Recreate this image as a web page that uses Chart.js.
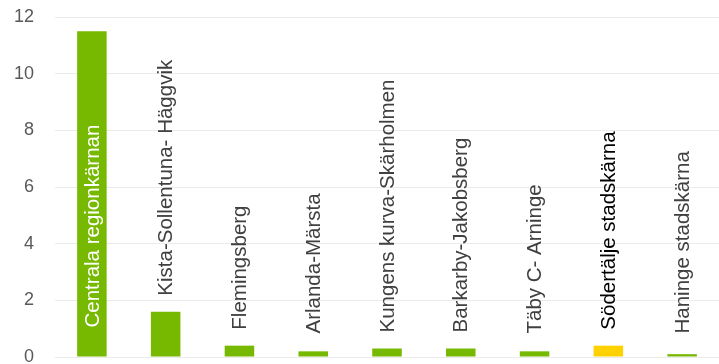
<!DOCTYPE html>
<html>
<head>
<meta charset="utf-8">
<script src="https://cdn.jsdelivr.net/npm/chart.js@4"></script>
<style>
  html, body { margin: 0; padding: 0; background: #fff; overflow: hidden; }
  canvas { display: block; }
</style>
</head>
<body>
<canvas id="c" width="719" height="364"></canvas>
<script>
const categories = ['Centrala regionkärnan', 'Kista-Sollentuna- Häggvik', 'Flemingsberg', 'Arlanda-Märsta',
  'Kungens kurva-Skärholmen', 'Barkarby-Jakobsberg', 'Täby C- Arninge', 'Södertälje stadskärna', 'Haninge stadskärna'];
const values = [11.5, 1.6, 0.4, 0.2, 0.3, 0.3, 0.2, 0.4, 0.1];
const barColors = ['#76b900', '#76b900', '#76b900', '#76b900', '#76b900', '#76b900', '#76b900', '#ffd100', '#76b900'];
const labelColors = ['#ffffff', '#404040', '#404040', '#404040', '#404040', '#404040', '#404040', '#000000', '#404040'];
const yTicks = [0, 2, 4, 6, 8, 10, 12];

const FONT = '"Liberation Sans", Arial, sans-serif';

// rotated category labels above each bar (first one sits inside its bar)
const barLabels = {
  id: 'barLabels',
  afterDatasetsDraw(chart) {
    const ctx = chart.ctx;
    const meta = chart.getDatasetMeta(0);
    ctx.save();
    ctx.font = '20.5px ' + FONT;
    ctx.textAlign = 'left';
    ctx.textBaseline = 'middle';
    meta.data.forEach((bar, i) => {
      const y = i === 0 ? bar.base - 29 : Math.min(bar.y - 16, bar.base - 23);
      ctx.save();
      ctx.translate(bar.x, y);
      ctx.rotate(-Math.PI / 2);
      ctx.fillStyle = labelColors[i];
      ctx.fillText(categories[i], 0, 1);
      ctx.restore();
    });
    ctx.restore();
  }
};

new Chart(document.getElementById('c'), {
  type: 'bar',
  data: {
    labels: categories,
    datasets: [{
      data: values,
      backgroundColor: barColors,
      barPercentage: 0.4,
      categoryPercentage: 1
    }]
  },
  options: {
    responsive: false,
    animation: false,
    layout: { padding: { top: 17, bottom: 7, right: 0, left: 0 } },
    plugins: { legend: { display: false }, tooltip: { enabled: false } },
    scales: {
      x: { display: false },
      y: {
        min: 0, max: 12,
        afterFit(scale) { scale.width = 55; scale.paddingTop = 0; scale.paddingBottom = 0; },
        afterBuildTicks(scale) { scale.ticks = yTicks.map(v => ({ value: v })); },
        border: { display: false },
        grid: { color: '#ebebeb', lineWidth: 1, drawTicks: false },
        ticks: { color: '#595959', padding: 21, font: { size: 18, family: FONT } }
      }
    }
  },
  plugins: [barLabels]
});
</script>
</body>
</html>
